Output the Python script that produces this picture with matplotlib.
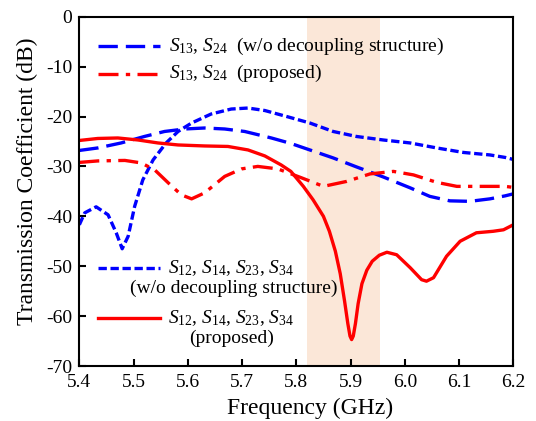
import numpy as np
import matplotlib
matplotlib.use("Agg")
import matplotlib.pyplot as plt

plt.rcParams['font.family'] = ['Liberation Serif', 'DejaVu Serif']
plt.rcParams['mathtext.fontset'] = 'custom'
plt.rcParams['mathtext.rm'] = 'Liberation Serif'
plt.rcParams['mathtext.it'] = 'Liberation Serif:italic'
plt.rcParams['axes.unicode_minus'] = False

# S12, S14, S23, S34 without decoupling structure (blue short dash)
f_iso_ref = [5.40, 5.41, 5.431, 5.453, 5.468, 5.479, 5.49, 5.502, 5.517, 5.536, 5.56, 5.582,
             5.607, 5.643, 5.68, 5.711, 5.742, 5.779, 5.825, 5.868, 5.911, 5.96, 6.01,
             6.059, 6.108, 6.157, 6.185, 6.20]
s_iso_ref = [-41.7, -39.3, -38.1, -39.7, -43.3, -46.5, -44.0, -38.0, -32.7, -28.7, -25.3, -23.0,
             -21.3, -19.5, -18.5, -18.3, -18.8, -19.9, -21.3, -23.0, -24.0, -24.7, -25.3,
             -26.3, -27.2, -27.7, -28.2, -28.6]

# S13, S24 without decoupling structure (blue long dash)
f_diag_ref = [5.40, 5.434, 5.477, 5.52, 5.557, 5.594, 5.631, 5.668, 5.705, 5.754, 5.79, 5.825,
              5.868, 5.911, 5.96, 6.01, 6.046, 6.083, 6.12, 6.157, 6.185, 6.20]
s_diag_ref = [-26.8, -26.3, -25.3, -24.0, -23.0, -22.5, -22.3, -22.5, -23.0, -24.3, -25.4, -26.7,
              -28.3, -30.1, -32.1, -34.3, -36.0, -36.9, -37.0, -36.5, -35.9, -35.5]

# S13, S24 proposed (red dash-dot)
f_diag_new = [5.40, 5.434, 5.484, 5.514, 5.539, 5.564, 5.588, 5.607, 5.631, 5.668, 5.699, 5.729,
              5.766, 5.81, 5.85, 5.893, 5.936, 5.979, 6.016, 6.059, 6.096, 6.133, 6.185, 6.20]
s_diag_new = [-29.2, -28.9, -28.8, -29.3, -30.7, -33.3, -35.7, -36.5, -35.3, -32.0, -30.5, -30.0,
              -30.5, -32.3, -34.0, -33.0, -31.5, -31.0, -31.7, -33.2, -34.0, -34.0, -34.0, -34.2]

# S12, S14, S23, S34 proposed (red solid)
f_iso_new = [5.40, 5.434, 5.471, 5.508, 5.545, 5.582, 5.631, 5.674, 5.711, 5.742, 5.772, 5.79,
             5.813, 5.831, 5.85, 5.861, 5.872, 5.881, 5.889, 5.895, 5.899, 5.902, 5.905, 5.909,
             5.914, 5.921, 5.93, 5.94, 5.953, 5.967, 5.985, 6.01, 6.031, 6.04, 6.053, 6.077,
             6.102, 6.132, 6.163, 6.182, 6.20]
s_iso_new = [-24.8, -24.4, -24.3, -24.7, -25.3, -25.7, -25.9, -26.0, -26.7, -27.9, -29.7, -31.0,
             -34.0, -36.7, -40.0, -43.0, -47.0, -51.5, -57.0, -61.5, -64.0, -64.7, -64.0, -61.5,
             -57.5, -53.5, -50.8, -49.0, -47.8, -47.2, -47.7, -50.3, -52.7, -53.0, -52.3, -48.0,
             -45.0, -43.3, -43.0, -42.7, -41.7]

band = (5.82, 5.955)

lw = 2.4
style_iso_ref = dict(color='#0000ff', lw=lw, dashes=(2.5, 1.1))
style_diag_ref = dict(color='#0000ff', lw=lw, dashes=(5.8, 2.4))
style_diag_new = dict(color='#ff0000', lw=lw, dashes=(6.0, 2.2, 1.3, 2.2))
style_iso_new = dict(color='#ff0000', lw=lw, ls='-')

fig = plt.figure(figsize=(5.36, 4.21), dpi=100)
ax = fig.add_axes([0.148, 0.1306, 0.8096, 0.8297])

ax.axvspan(band[0], band[1], color='#fbe7d8', lw=0, zorder=0)
ax.plot(f_iso_ref, s_iso_ref, **style_iso_ref)
ax.plot(f_diag_ref, s_diag_ref, **style_diag_ref)
ax.plot(f_diag_new, s_diag_new, **style_diag_new)
ax.plot(f_iso_new, s_iso_new, **style_iso_new)

ax.set_xlim(5.4, 6.2)
ax.set_ylim(-70, 0)
ax.set_xticks(np.arange(5.4, 6.21, 0.1))
ax.set_xticklabels(['%.1f' % v for v in np.arange(5.4, 6.21, 0.1)])
ax.set_yticks(np.arange(-70, 1, 10))
ax.tick_params(direction='in', length=5, width=1.5, labelsize=14, top=False, right=False)
ax.tick_params(axis='x', pad=6)
ax.tick_params(axis='y', pad=5)
for sp in ax.spines.values():
    sp.set_linewidth(1.5)
ax.set_xlabel('Frequency (GHz)', fontsize=17)
ax.set_ylabel('Transmission Coefficient (dB)', fontsize=17)
ax.xaxis.set_label_coords(0.531, -0.092)
ax.yaxis.set_label_coords(-0.095, 0.528)

# hand-made legends (handles line up with first text line)
hx = [0.044, 0.187]


def handle(y, style):
    ax.plot(hx, [y, y], transform=ax.transAxes, clip_on=False, **style)


handle(0.916, style_diag_ref)
ax.text(0.207, 0.916, r'$S_{13}$, $S_{24}$  (w/o decoupling structure)', transform=ax.transAxes,
        fontsize=14, va='center', ha='left')
handle(0.837, style_diag_new)
ax.text(0.207, 0.837, r'$S_{13}$, $S_{24}$  (proposed)', transform=ax.transAxes,
        fontsize=14, va='center', ha='left')

handle(0.280, style_iso_ref)
ax.text(0.35, 0.280, r'$S_{12}$, $S_{14}$, $S_{23}$, $S_{34}$', transform=ax.transAxes,
        fontsize=14, va='center', ha='center')
ax.text(0.357, 0.222, '(w/o decoupling structure)', transform=ax.transAxes,
        fontsize=14, va='center', ha='center')
handle(0.137, style_iso_new)
ax.text(0.35, 0.137, r'$S_{12}$, $S_{14}$, $S_{23}$, $S_{34}$', transform=ax.transAxes,
        fontsize=14, va='center', ha='center')
ax.text(0.35, 0.079, '(proposed)', transform=ax.transAxes,
        fontsize=14, va='center', ha='center')

fig.savefig('out.png', dpi=100)
